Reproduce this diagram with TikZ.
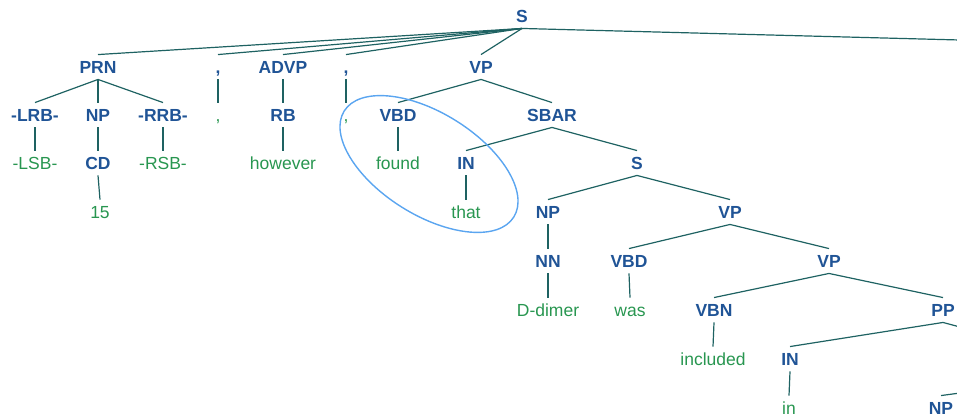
\documentclass[tikz,border=0pt]{standalone}
\usepackage{fontspec}
\setmainfont{Liberation Sans}
\definecolor{tagblue}{RGB}{32,84,150}
\definecolor{wordgreen}{RGB}{40,150,80}
\definecolor{edgeteal}{RGB}{30,98,98}
\definecolor{ringblue}{RGB}{90,165,240}
\tikzset{
  base/.style={inner xsep=1pt, inner ysep=6pt, text height=12.5pt, text depth=0pt, anchor=center},
  tag/.style={base, font=\fontsize{17.5}{20}\selectfont\bfseries, text=tagblue},
  word/.style={base, font=\fontsize{17.5}{20}\selectfont, text=wordgreen},
  edge/.style={draw=edgeteal, line width=1.2pt},
  ring/.style={draw=ringblue, line width=1.4pt}
}
\begin{document}
\begin{tikzpicture}[x=1pt,y=1pt]
\useasboundingbox (0,0) rectangle (957,-416);
\clip (0,0) rectangle (957,-416);
% row 0
\node[tag] (S) at (522,-16) {S};
% row 1
\node[tag] (PRN) at (98,-67) {PRN};
\node[tag] (ca) at (218,-67) {,};
\node[tag] (ADVP) at (283,-67) {ADVP};
\node[tag] (cb) at (346,-67) {,};
\node[tag] (VP) at (481,-67) {VP};
\coordinate (Sright) at (960,-40);
% row 2
\node[tag] (LRB) at (35,-115) {-LRB-};
\node[tag] (NP) at (98,-115) {NP};
\node[tag] (RRB) at (163,-115) {-RRB-};
\node[word] (cc) at (218,-115) {,};
\node[tag] (RB) at (283,-115) {RB};
\node[word] (cd) at (346,-115) {,};
\node[tag] (VBD) at (398,-115) {VBD};
\node[tag] (SBAR) at (552,-115) {SBAR};
% row 3
\node[word] (LSB) at (35,-163) {-LSB-};
\node[tag] (CD) at (98,-163) {CD};
\node[word] (RSB) at (163,-163) {-RSB-};
\node[word] (however) at (283,-163) {however};
\node[word] (found) at (398,-163) {found};
\node[tag] (IN) at (466,-163) {IN};
\node[tag] (S2) at (637,-163) {S};
% row 4
\node[word] (fifteen) at (100,-212) {15};
\node[word] (that) at (466,-212) {that};
\node[tag] (NP2) at (548,-212) {NP};
\node[tag] (VP2) at (730,-212) {VP};
% row 5
\node[tag] (NN) at (548,-261) {NN};
\node[tag] (VBD2) at (629,-261) {VBD};
\node[tag] (VP3) at (829,-261) {VP};
% row 6
\node[word] (Ddimer) at (548,-310) {D-dimer};
\node[word] (was) at (630,-310) {was};
\node[tag] (VBN) at (714,-310) {VBN};
\node[tag] (PP) at (943,-310) {PP};
\coordinate (PPright) at (960,-327);
% row 7
\node[word] (included) at (713,-359) {included};
\node[tag] (IN2) at (790,-359) {IN};
% row 8
\node[word] (in) at (789,-408) {in};
\node[tag] (NP3) at (941,-408) {NP};
\coordinate (NP3up) at (960,-393);
% edges
\foreach \a/\b in {S/PRN,S/ca,S/ADVP,S/cb,S/VP,
  PRN/LRB,PRN/NP,PRN/RRB,ca/cc,ADVP/RB,cb/cd,VP/VBD,VP/SBAR,
  LRB/LSB,NP/CD,RRB/RSB,RB/however,VBD/found,SBAR/IN,SBAR/S2,
  CD/fifteen,IN/that,S2/NP2,S2/VP2,
  NP2/NN,VP2/VBD2,VP2/VP3,
  NN/Ddimer,VBD2/was,VP3/VBN,VP3/PP,
  VBN/included,PP/IN2,IN2/in}
  \draw[edge] (\a.south) -- (\b.north);
\draw[edge] (S.south) -- (Sright);
\draw[edge] (PP.south) -- (PPright);
\draw[edge] (NP3up) -- (NP3.north);
% highlight ring
\draw[ring] (429,-164) ellipse[x radius=100, y radius=51, rotate=-32];
\end{tikzpicture}
\end{document}
